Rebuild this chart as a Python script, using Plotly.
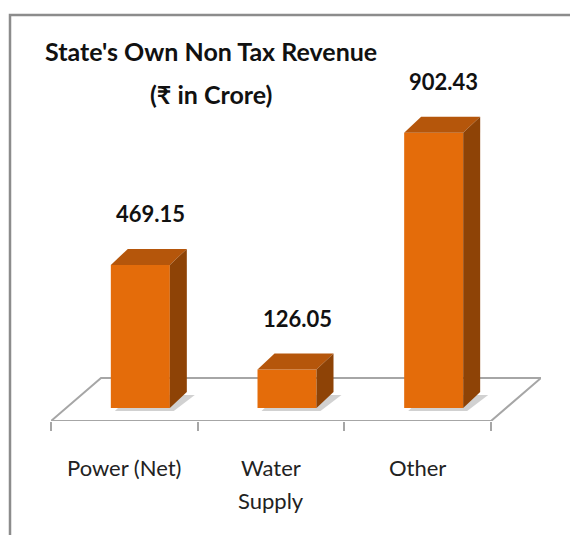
import plotly.graph_objects as go

# ---------------- data ----------------
categories = ["Power (Net)", "Water\nSupply", "Other"]
values = [469.15, 126.05, 902.43]
value_labels = ["469.15", "126.05", "902.43"]
title_lines = ["State's Own Non Tax Revenue", "(₹ in Crore)"]

# ---------------- layout constants ----------------
W, H = 570, 535
L, R, T, B = 51, 29, 30, 114
plot_w = W - L - R
plot_h = H - T - B
PXX = 146.67   # pixels per category slot
PXY = 0.305    # pixels per value unit

n = len(categories)
x0 = -0.5
x1 = x0 + plot_w / PXX
y0 = -13 / PXY
y1 = y0 + plot_h / PXY


def ux(px):
    return px / PXX


def uy(px):
    return px / PXY


bar_w = ux(59)
bar_shift = ux(16)
depth_dx = ux(17)
depth_dy = uy(16)
floor_dx = ux(50)
floor_dy = uy(43)

FRONT = "#E46C0A"
TOP = "#B5560B"
SIDE = "#8E4306"
GRID = "#A6A6A6"
FONT = "Lato, 'Open Sans', sans-serif"

fig = go.Figure()

# front faces of the bars
fig.add_trace(go.Bar(
    x=list(range(n)), y=values, width=bar_w,
    offset=bar_shift - bar_w / 2,
    marker=dict(color=FRONT, line=dict(width=0)),
    hoverinfo="skip", showlegend=False,
))

# top and side faces, derived from values
for i, v in enumerate(values):
    xl = i + bar_shift - bar_w / 2
    xr = xl + bar_w
    fig.add_trace(go.Scatter(
        x=[xl, xr, xr + depth_dx, xl + depth_dx, xl],
        y=[v, v, v + depth_dy, v + depth_dy, v],
        fill="toself", fillcolor=TOP, mode="lines",
        line=dict(width=0, color=TOP), hoverinfo="skip", showlegend=False,
    ))
    fig.add_trace(go.Scatter(
        x=[xr, xr + depth_dx, xr + depth_dx, xr, xr],
        y=[0, depth_dy, v + depth_dy, v, 0],
        fill="toself", fillcolor=SIDE, mode="lines",
        line=dict(width=0, color=SIDE), hoverinfo="skip", showlegend=False,
    ))

shapes = []
# floor
fx_end = n - 0.5
shapes.append(dict(
    type="path", xref="x", yref="y", layer="below",
    path=(f"M {x0},{y0} L {fx_end},{y0} L {fx_end + floor_dx},{y0 + floor_dy} "
          f"L {x0 + floor_dx},{y0 + floor_dy} Z"),
    fillcolor="white", line=dict(color=GRID, width=2),
))
# soft shadows under bars
for i, v in enumerate(values):
    xl = i + bar_shift - bar_w / 2 + ux(4)
    xr = xl + bar_w
    yb = -uy(3)
    shapes.append(dict(
        type="path", xref="x", yref="y", layer="below",
        path=(f"M {xl},{yb} L {xr},{yb} L {xr + depth_dx + ux(4)},{yb + depth_dy} "
              f"L {xl + depth_dx},{yb + depth_dy} Z"),
        fillcolor="rgba(0,0,0,0.18)", line=dict(width=0),
    ))


# helpers taking positions in screenshot pixels
def px_to_paper_x(px):
    return (px - L) / plot_w


def py_to_paper_y(py):
    return (H - B - py) / plot_h


# outer frame (top and left edges)
shapes.append(dict(
    type="path", xref="paper", yref="paper", layer="above",
    path=(f"M {px_to_paper_x(10)},{py_to_paper_y(540)} L {px_to_paper_x(10)},{py_to_paper_y(15)} "
          f"L {px_to_paper_x(575)},{py_to_paper_y(15)}"),
    line=dict(color="#8C8C8C", width=2.5),
))

annotations = []
# value labels
for i, (v, t) in enumerate(zip(values, value_labels)):
    annotations.append(dict(
        x=i + bar_shift + ux(10), y=v + depth_dy, xref="x", yref="y",
        text=f"<b>{t}</b>", showarrow=False, yanchor="middle", yshift=35,
        font=dict(family=FONT, size=22, color="#111111"),
    ))
# category labels (multi-line split)
for i, c in enumerate(categories):
    for j, line in enumerate(c.split("\n")):
        annotations.append(dict(
            x=i, y=0, xref="x", yref="paper", text=line, showarrow=False,
            yanchor="middle", yshift=-46 - 33 * j,
            font=dict(family=FONT, size=22, color="#222222"),
        ))
# title lines
for j, line in enumerate(title_lines):
    annotations.append(dict(
        x=px_to_paper_x(211), y=py_to_paper_y(51 + 43 * j), xref="paper", yref="paper",
        text=f"<b>{line}</b>", showarrow=False, xanchor="center", yanchor="middle",
        font=dict(family=FONT, size=25, color="#111111"),
    ))

fig.update_layout(
    width=W, height=H,
    margin=dict(l=L, r=R, t=T, b=B),
    paper_bgcolor="white", plot_bgcolor="white",
    showlegend=False,
    shapes=shapes, annotations=annotations,
    xaxis=dict(
        range=[x0, x1], showgrid=False, zeroline=False, showline=False,
        tickmode="array", tickvals=[k - 0.5 for k in range(n + 1)],
        ticks="outside", ticklen=9, tickwidth=2, tickcolor=GRID,
        showticklabels=False, fixedrange=True,
    ),
    yaxis=dict(range=[y0, y1], visible=False, fixedrange=True),
)

fig.write_html(
    "out.html",
    config={"displayModeBar": False},
    post_script="document.body.style.margin='0';document.body.style.overflow='hidden';",
)
